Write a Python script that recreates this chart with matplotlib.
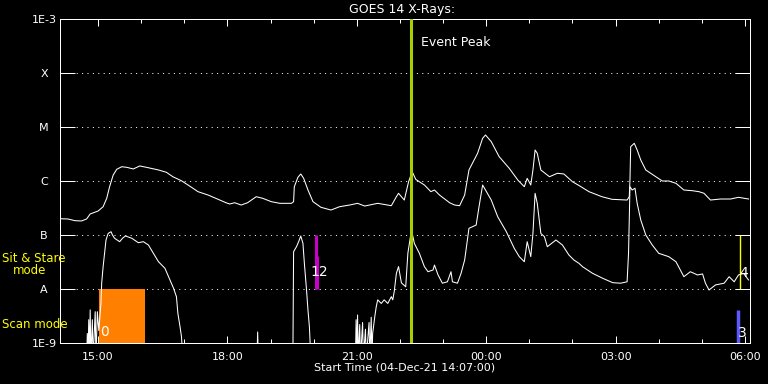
import datetime as dt
import matplotlib
matplotlib.use("Agg")
import matplotlib.pyplot as plt
import matplotlib.dates as mdates
from matplotlib.ticker import NullLocator

# Flux 1-8 A (upper curve), W/m^2
long_t = ["14:08", "14:18", "14:28", "14:37", "14:44", "14:49", "15:00", "15:07", "15:12", "15:16",
          "15:21", "15:26", "15:33", "15:40", "15:49", "15:58", "16:10", "16:24", "16:35", "16:44",
          "16:56", "17:10", "17:19", "17:33", "17:47", "17:58", "18:03", "18:10", "18:19", "18:28",
          "18:40", "18:49", "19:01", "19:13", "19:29", "19:32", "19:33", "19:38", "19:42", "19:46",
          "19:52", "19:59", "20:10", "20:24", "20:36", "20:50", "21:01", "21:11", "21:29", "21:48",
          "21:55", "21:58", "22:06", "22:12", "22:17", "22:22", "22:34", "22:43", "22:48", "22:55",
          "23:09", "23:16", "23:23", "23:30", "23:36", "23:48", "23:55", "23:59", "00:07", "00:18",
          "00:32", "00:44", "00:53", "00:57", "01:02", "01:05", "01:08", "01:11", "01:16", "01:28",
          "01:39", "01:48", "02:00", "02:09", "02:23", "02:41", "02:55", "03:16", "03:19", "03:20",
          "03:21", "03:26", "03:30", "03:35", "03:42", "03:56", "04:05", "04:14", "04:24", "04:35",
          "04:47", "04:56", "05:03", "05:12", "05:26", "05:40", "05:51", "06:05"]
long_flux = [2.0e-7, 1.98e-7, 1.84e-7, 1.82e-7, 1.98e-7, 2.45e-7, 2.78e-7, 3.34e-7, 4.78e-7, 7.84e-7,
             1.29e-6, 1.65e-6, 1.84e-6, 1.79e-6, 1.67e-6, 1.90e-6, 1.76e-6, 1.60e-6, 1.45e-6, 1.20e-6,
             1.01e-6, 7.64e-7, 6.34e-7, 5.5e-7, 4.58e-7, 3.96e-7, 3.75e-7, 3.96e-7, 3.59e-7, 3.96e-7,
             5.12e-7, 4.78e-7, 4.14e-7, 3.86e-7, 3.86e-7, 4.14e-7, 7.84e-7, 1.17e-6, 1.35e-6, 1.12e-6,
             6.81e-7, 4.14e-7, 3.26e-7, 2.90e-7, 3.34e-7, 3.59e-7, 3.86e-7, 3.44e-7, 3.86e-7, 3.49e-7,
             5.12e-7, 5.92e-7, 4.44e-7, 9.7e-7, 1.49e-6, 1.07e-6, 8.43e-7, 6.34e-7, 6.81e-7, 5.5e-7,
             3.96e-7, 3.59e-7, 3.49e-7, 5.5e-7, 1.60e-6, 3.26e-6, 6.18e-6, 7.11e-6, 5.35e-6, 2.82e-6,
             1.72e-6, 1.04e-6, 7.84e-7, 1.12e-6, 8.43e-7, 1.60e-6, 3.75e-6, 3.26e-6, 1.60e-6, 1.20e-6,
             1.39e-6, 1.35e-6, 9.7e-7, 8.26e-7, 6.34e-7, 5.12e-7, 4.58e-7, 4.44e-7, 5.12e-7, 1.04e-6,
             4.32e-6, 4.99e-6, 3.75e-6, 2.45e-6, 1.60e-6, 1.20e-6, 1.0e-6, 1.0e-6, 9.06e-7, 6.81e-7,
             6.61e-7, 6.34e-7, 5.92e-7, 4.44e-7, 4.64e-7, 4.64e-7, 4.99e-7, 4.64e-7]

# Flux 0.5-4 A (lower curve), 5e-10 = below the plot floor
short_t = ["14:07", "14:44", "14:45", "14:46", "14:47", "14:48", "14:49", "14:50", "14:52", "14:53",
           "14:56", "14:57", "14:59", "15:01", "15:04", "15:05", "15:07", "15:09", "15:11", "15:14",
           "15:18", "15:20", "15:23", "15:30", "15:34", "15:38", "15:47", "15:56", "16:03", "16:10",
           "16:17", "16:24", "16:33", "16:40", "16:45", "16:49", "16:51", "16:54", "16:56", "16:58",
           "18:41", "18:42", "18:43", "19:31", "19:32", "19:36", "19:39", "19:42", "19:45", "19:47",
           "19:50", "19:52", "19:54", "19:56", "20:58", "20:59", "21:00", "21:01", "21:02", "21:04",
           "21:05", "21:08", "21:09", "21:12", "21:13", "21:17", "21:18", "21:20", "21:21", "21:22",
           "21:25", "21:27", "21:29", "21:34", "21:38", "21:43", "21:48", "21:50", "21:52", "21:55",
           "21:58", "21:59", "22:02", "22:08", "22:11", "22:16", "22:20", "22:27", "22:34", "22:39",
           "22:46", "22:48", "22:53", "22:59", "23:06", "23:11", "23:13", "23:20", "23:25", "23:30",
           "23:36", "23:46", "23:50", "23:55", "23:59", "00:07", "00:16", "00:28", "00:39", "00:46",
           "00:53", "00:57", "01:02", "01:05", "01:08", "01:11", "01:16", "01:21", "01:25", "01:37",
           "01:46", "01:55", "02:02", "02:09", "02:14", "02:28", "02:42", "02:56", "03:07", "03:16",
           "03:18", "03:19", "03:20", "03:23", "03:27", "03:30", "03:35", "03:42", "03:51", "04:00",
           "04:14", "04:24", "04:35", "04:44", "04:54", "05:01", "05:05", "05:10", "05:19", "05:31",
           "05:38", "05:45", "05:51", "05:58", "06:05"]
short_flux = [5e-10, 5e-10, 1.5e-9, 5e-10, 2.7e-9, 5e-10, 4.1e-9, 5e-10, 2.7e-9, 5e-10,
              3.8e-9, 5e-10, 3.8e-9, 1.7e-9, 5.5e-9, 1.29e-8, 2.59e-8, 4.58e-8, 8.08e-8, 1.07e-7,
              1.15e-7, 1.0e-7, 8.69e-8, 7.52e-8, 8.69e-8, 9.6e-8, 8.69e-8, 7.2e-8, 7.52e-8, 6.53e-8,
              4.58e-8, 3.2e-8, 2.42e-8, 1.47e-8, 1.03e-8, 7.2e-9, 3.55e-9, 2.0e-9, 1.31e-9, 5e-10,
              5e-10, 1.6e-9, 5e-10, 5e-10, 4.9e-8, 6.07e-8, 7.52e-8, 9.6e-8, 7.0e-8, 2.99e-8,
              9.58e-9, 4.08e-9, 2.0e-9, 5e-10, 5e-10, 2.7e-9, 5e-10, 3.3e-9, 5e-10, 2.2e-9,
              5e-10, 2.4e-9, 5e-10, 1.8e-9, 5e-10, 2.4e-9, 5e-10, 3.0e-9, 5e-10, 1.5e-9,
              3.1e-9, 4.7e-9, 6.3e-9, 5.4e-9, 6.3e-9, 5.4e-9, 7.2e-9, 6.3e-9, 8.9e-9, 1.95e-8,
              2.6e-8, 2.2e-8, 1.3e-8, 1.1e-8, 4.6e-8, 1.24e-7, 7.0e-8, 4.58e-8, 2.59e-8, 2.09e-8,
              2.25e-8, 2.78e-8, 1.82e-8, 1.28e-8, 1.36e-8, 2.09e-8, 1.36e-8, 1.28e-8, 1.95e-8, 3.44e-8,
              1.33e-7, 1.53e-7, 3.34e-7, 8.43e-7, 6.81e-7, 4.44e-7, 2.18e-7, 1.15e-7, 5.67e-8, 3.97e-8,
              3.2e-8, 7.52e-8, 3.97e-8, 1.07e-7, 5.92e-7, 3.86e-7, 1.07e-7, 9.3e-8, 6.07e-8, 8.08e-8,
              6.53e-8, 4.27e-8, 3.44e-8, 2.99e-8, 2.59e-8, 1.95e-8, 1.58e-8, 1.31e-8, 1.28e-8, 1.36e-8,
              4.58e-8, 1.9e-7, 7.84e-7, 6.81e-7, 7.34e-7, 3.86e-7, 1.9e-7, 1.0e-7, 6.53e-8, 4.58e-8,
              3.97e-8, 3.2e-8, 1.69e-8, 2.09e-8, 1.82e-8, 1.9e-8, 1.28e-8, 9.58e-9, 1.19e-8, 1.28e-8,
              1.69e-8, 1.36e-8, 1.82e-8, 1.95e-8, 1.47e-8]

levels = [1e-9, 1e-8, 1e-7, 1e-6, 1e-5, 1e-4, 1e-3]
level_labels = ["1E-9", "A", "B", "C", "M", "X", "1E-3"]

peak_time = "22:15"
scan_block = ("15:01", "16:05")  # orange box, 1E-9 .. A


def to_dt(s):
    h, m = map(int, s.split(":"))
    day = 4 if h >= 14 else 5
    return dt.datetime(2021, 12, day, h, m)


start = dt.datetime(2021, 12, 4, 14, 7)
end = start + dt.timedelta(hours=16)

fig = plt.figure(figsize=(7.68, 3.84), dpi=100, facecolor="black")
ax = fig.add_axes([60 / 768, 41 / 384, 690 / 768, 324 / 384], facecolor="black")

ax.set_yscale("log")
ax.set_ylim(1e-9, 1e-3)
ax.set_xlim(start, end)

# dotted level lines
for lv in levels[1:-1]:
    ax.axhline(lv, color="white", lw=0.72, ls=(0, (1, 4.4)), zorder=1)

# instrument mode blocks
ax.fill_between([to_dt(scan_block[0]), to_dt(scan_block[1])], 1e-9, 1e-8,
                color="#ff8000", lw=0, zorder=2)
ax.vlines(to_dt("20:03"), 1e-8, 1e-7, color="#c800c8", lw=2.2, zorder=2)
ax.vlines(to_dt("20:04"), 1e-8, 4.1e-8, color="#c800c8", lw=2.2, zorder=2)
ax.vlines(to_dt("05:50"), 1e-9, 4.1e-9, color="#5a5aff", lw=2.5, zorder=2)
ax.vlines(to_dt("05:53"), 1e-8, 1e-7, color="yellow", lw=1, zorder=2)

ax.plot([to_dt(t) for t in long_t], long_flux, color="white", lw=0.75, zorder=3)
ax.plot([to_dt(t) for t in short_t], short_flux, color="white", lw=0.75, zorder=3)

ax.axvline(to_dt(peak_time), color="#a8d000", lw=2.2, zorder=4)
ax.text(to_dt("22:29"), 3.6e-4, "Event Peak", color="white", fontsize=9,
        ha="left", va="center")

for lab, t, y in [("0", "15:09", 1.6e-9), ("12", "20:08", 2.1e-8),
                  ("3", "05:56", 1.55e-9), ("4", "05:58", 2.0e-8)]:
    ax.text(to_dt(t), y, lab, color="white", fontsize=10, ha="center", va="center", zorder=5)

# axes styling
for sp in ax.spines.values():
    sp.set_color("white")
    sp.set_linewidth(0.72)

ax.set_yticks(levels)
ax.set_yticklabels(level_labels)
ax.yaxis.set_minor_locator(NullLocator())
ax.tick_params(axis="y", which="major", direction="in", length=10.5, width=0.72,
               colors="white", left=True, right=True, pad=11.5, labelsize=8)
for lab in ax.get_yticklabels():
    lab.set_horizontalalignment("center")

ax.xaxis.set_major_locator(mdates.HourLocator(byhour=range(0, 24, 3)))
ax.xaxis.set_minor_locator(mdates.HourLocator())
ax.xaxis.set_major_formatter(mdates.DateFormatter("%H:%M"))
ax.tick_params(axis="x", which="major", direction="in", length=5, width=0.72,
               colors="white", top=True, bottom=True, pad=6.5, labelsize=8)
ax.tick_params(axis="x", which="minor", direction="in", length=3, width=0.72,
               colors="white", top=True, bottom=True)

fig.text(402.5 / 768, 1 - 10 / 384, "GOES 14 X-Rays:", color="white", fontsize=9,
         ha="center", va="center")
fig.text(405 / 768, 1 - 368 / 384, "Start Time (04-Dec-21 14:07:00)", color="white",
         fontsize=8, ha="center", va="center")
fig.text(2 / 768, 1 - 259 / 384, "Sit & Stare", color="yellow", fontsize=8.5,
         ha="left", va="center")
fig.text(13 / 768, 1 - 271 / 384, "mode", color="yellow", fontsize=8.5,
         ha="left", va="center")
fig.text(2 / 768, 1 - 324 / 384, "Scan mode", color="yellow", fontsize=8.5,
         ha="left", va="center")

fig.savefig("out.png", dpi=100, facecolor="black")
